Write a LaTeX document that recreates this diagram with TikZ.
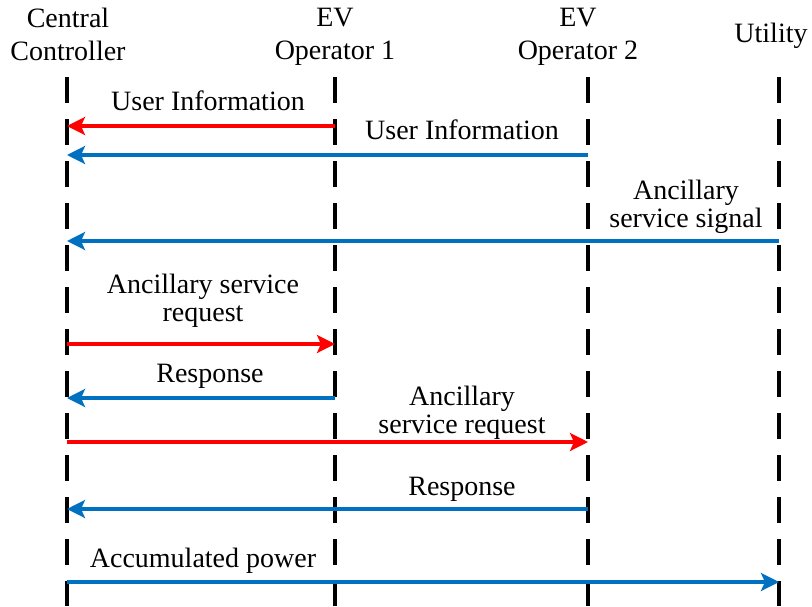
\documentclass[tikz,border=0pt]{standalone}
\usepackage{fontspec}
\setmainfont{Liberation Serif}
\usepackage{xcolor}
\definecolor{msgred}{RGB}{255,0,0}
\definecolor{msgblue}{RGB}{0,112,192}
\usetikzlibrary{arrows.meta,positioning}

\begin{document}
\begin{tikzpicture}[x=1pt,y=-1pt,
  actor/.style={align=center,inner sep=0pt,anchor=north,font=\fontsize{28}{33}\selectfont},
  msglabel/.style={align=center,inner sep=0pt,anchor=north,font=\fontsize{28}{27.5}\selectfont},
  lifeline/.style={line width=4pt,dash pattern=on 26pt off 16pt},
  redmsg/.style={line width=3.2pt,msgred,-{Stealth[length=18pt,width=18pt,inset=4pt]}},
  bluemsg/.style={line width=3.2pt,msgblue,-{Stealth[length=18pt,width=18pt,inset=4pt]}}
]
  \useasboundingbox (0,0) rectangle (812,606);

  % Actors
  \node[actor] (cc) at (68,8) {Central\\Controller};
  \node[actor] (op1) at (335,8) {EV\\Operator 1};
  \node[actor] (op2) at (578,8) {EV\\Operator 2};
  \node[actor,anchor=base] (ut) at (771,42) {Utility};

  % Lifelines
  \coordinate (cct) at (67,77);   \coordinate (ccb) at (67,606);
  \coordinate (op1t) at (335,77); \coordinate (op1b) at (335,606);
  \coordinate (op2t) at (588,77); \coordinate (op2b) at (588,606);
  \coordinate (utt) at (779,77);  \coordinate (utb) at (779,606);
  \draw[lifeline] (cct) -- (ccb);
  \draw[lifeline] (op1t) -- (op1b);
  \draw[lifeline] (op2t) -- (op2b);
  \draw[lifeline] (utt) -- (utb);

  % Message labels
  \node[msglabel] (ui1) at (208,91) {User Information};
  \node[msglabel] (ui2) at (462,120) {User Information};
  \node[msglabel] (ass) at (686,180) {Ancillary\\service signal};
  \node[msglabel] (asr1) at (203,274) {Ancillary service\\request};
  \node[msglabel] (rsp1) at (210,363.5) {Response};
  \node[msglabel] (asr2) at (462,386) {Ancillary\\service request};
  \node[msglabel] (rsp2) at (462,476.5) {Response};
  \node[msglabel] (acc) at (203,548) {Accumulated power};

  % Messages
  \draw[redmsg] (op1t |- 0,126) -- (cct |- 0,126);
  \draw[bluemsg] (op2t |- 0,155) -- (cct |- 0,155);
  \draw[bluemsg] (utt |- 0,241) -- (cct |- 0,241);
  \draw[redmsg] (cct |- 0,344) -- (op1t |- 0,344);
  \draw[bluemsg] (op1t |- 0,398) -- (cct |- 0,398);
  \draw[redmsg] (cct |- 0,442) -- (op2t |- 0,442);
  \draw[bluemsg] (op2t |- 0,509) -- (cct |- 0,509);
  \draw[bluemsg] (cct |- 0,582) -- (utt |- 0,582);
\end{tikzpicture}
\end{document}
